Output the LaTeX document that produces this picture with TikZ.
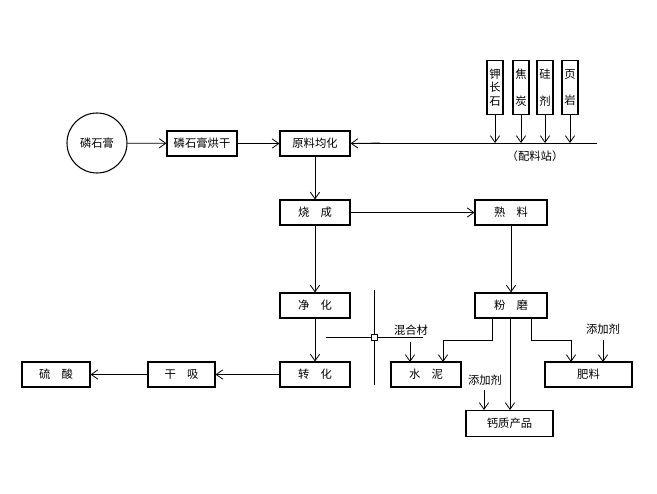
\documentclass[tikz,border=0pt]{standalone}
\usepackage{fontspec}
\newfontfamily\cjk{Noto Sans CJK SC}
\usetikzlibrary{arrows.meta}
\begin{document}
\begin{tikzpicture}[x=0.75pt,y=-0.75pt,
  font=\cjk\fontsize{8.5}{10}\selectfont,
  box/.style={draw,thick,minimum width=#1*0.75pt,minimum height=18.75pt,inner sep=0pt},
  vbox/.style={draw,thick,minimum width=12pt,minimum height=41pt,inner sep=0pt,align=center},
  arr/.style={-{Straight Barb[length=5pt,width=7pt]},semithick},
  ln/.style={semithick}]
\useasboundingbox (0,0) rectangle (657,493);
\node[draw,thick,circle,minimum size=45pt] (c) at (97,143) {磷石膏};
\node[box=70] (hg) at (202,143.5) {磷石膏烘干};
\node[box=70] (yl) at (315,143.5) {原料均化};
\node[box=70] (sc) at (315,212.5) {烧\quad 成};
\node[box=72] (sl) at (511,212.5) {熟\quad 料};
\node[box=70] (jh) at (315,305.5) {净\quad 化};
\node[box=70] (zh) at (315,374.5) {转\quad 化};
\node[box=67] (gx) at (181.5,374.5) {干\quad 吸};
\node[box=68] (ls) at (56,374.5) {硫\quad 酸};
\node[box=72] (fm) at (511,305.5) {粉\quad 磨};
\node[box=70] (sn) at (426,374.5) {水\quad 泥};
\node[box=87] (fl) at (588.5,374.5) {肥料};
\node[box=87,minimum height=20pt] (gz) at (509.5,423.5) {钙质产品};
\node[vbox] (v1) at (495,87.5) {钾\\长\\石};
\node[vbox] (v2) at (521,87.5) {焦\\\\炭};
\node[vbox] (v3) at (545,87.5) {硅\\\\剂};
\node[vbox] (v4) at (570,87.5) {页\\\\岩};
\node (pl) at (535,156) {（配料站）};
\node (hh) at (411,330) {混合材};
\node (t1) at (485,380) {添加剂};
\node (t2) at (603,329) {添加剂};
\coordinate (le) at (597,143);
\draw[ln] (le) -- (350,143);
\draw[arr] (380,143) -- (yl.east);
\foreach \v/\x in {v1/495,v2/521,v3/545,v4/570}
  \draw[arr] (\v.south) -- (\x,143);
\draw[arr] (c) -- (hg);
\draw[arr] (hg) -- (yl);
\draw[arr] (yl) -- (sc);
\draw[arr] (sc) -- (sl);
\draw[arr] (sl) -- (fm);
\draw[arr] (sc) -- (jh);
\draw[arr] (jh) -- (zh);
\draw[arr] (zh) -- (gx);
\draw[arr] (gx) -- (ls);
\draw[arr] (492,318) -- (492,340) -- (443,340) -- (443,362);
\draw[arr] (510,318) -- (510,410);
\draw[arr] (531,318) -- (531,340) -- (571,340) -- (571,362);
\draw[arr] (hh.south -| 410,0) ++(0,2) -- (410,362);
\draw[arr] (484,390) -- (484,410);
\draw[arr] (603,340) -- (603,362);
\draw[ln] (374,290) -- (374,385);
\draw[ln] (326,337) -- (423,337);
\draw[ln,fill=white] (371,334) rectangle (377,340);
\end{tikzpicture}
\end{document}
